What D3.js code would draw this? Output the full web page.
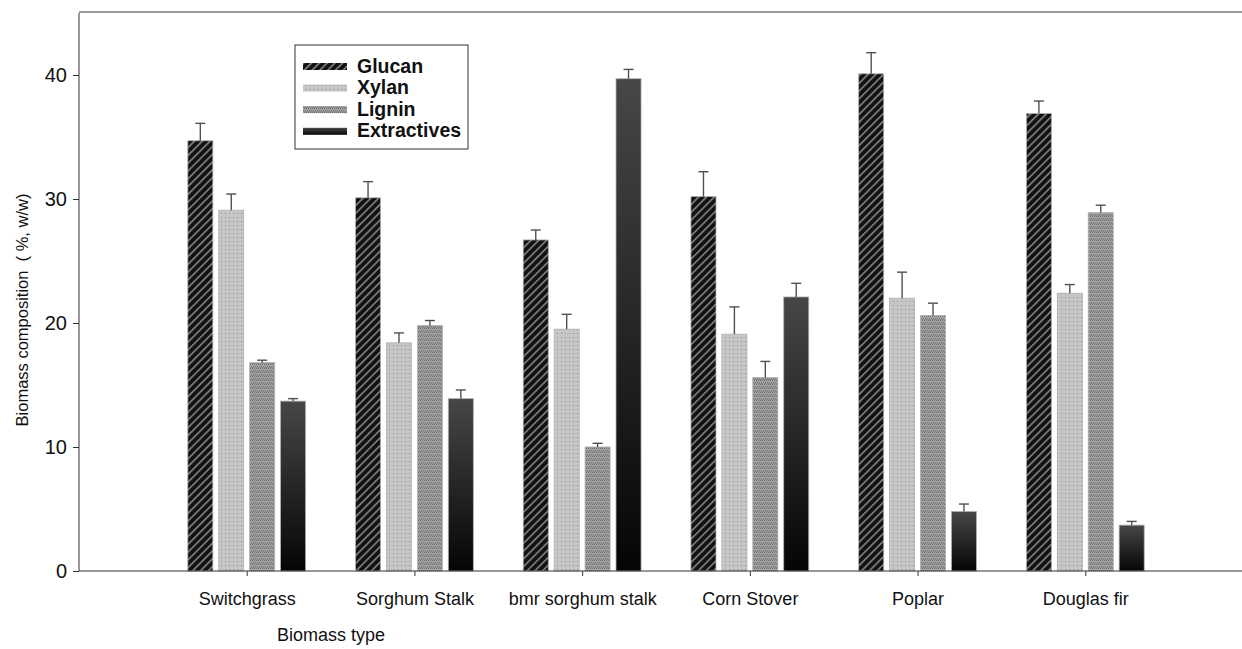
<!DOCTYPE html>
<html>
<head>
<meta charset="utf-8">
<script src="https://cdn.jsdelivr.net/npm/d3@7"></script>
<style>
  html, body { margin: 0; padding: 0; background: #fff; }
  svg { display: block; font-family: Arial, "Liberation Sans", sans-serif; }
</style>
</head>
<body>
<svg id="chart" width="1242" height="649"></svg>
<script>
// Biomass types along the x axis
const categories = ["Switchgrass", "Sorghum Stalk", "bmr sorghum stalk", "Corn Stover", "Poplar", "Douglas fir"];
const seriesNames = ["Glucan", "Xylan", "Lignin", "Extractives"];

// Composition (% w/w) per biomass type, with standard deviations
const glucan      = [34.7, 30.1, 26.7, 30.2, 40.1, 36.9];
const glucanErr   = [1.4, 1.3, 0.8, 2.0, 1.7, 1.0];
const xylan       = [29.1, 18.4, 19.5, 19.1, 22.0, 22.4];
const xylanErr    = [1.3, 0.8, 1.2, 2.2, 2.1, 0.7];
const lignin      = [16.8, 19.8, 10.0, 15.6, 20.6, 28.9];
const ligninErr   = [0.2, 0.4, 0.3, 1.3, 1.0, 0.6];
const extractives = [13.7, 13.9, 39.7, 22.1, 4.8, 3.7];
const extractErr  = [0.2, 0.7, 0.75, 1.1, 0.6, 0.3];

const yTicks = [0, 10, 20, 30, 40];

const values = [glucan, xylan, lignin, extractives];
const errors = [glucanErr, xylanErr, ligninErr, extractErr];

const svg = d3.select("#chart");
const plotLeft = 79, plotRight = 1253, plotTop = 13, plotBottom = 571;

const x = d3.scalePoint().domain(categories).range([plotLeft, plotRight]).padding(1);
const y = d3.scaleLinear().domain([0, 45]).range([plotBottom, plotTop]);
const slot = d3.scaleBand().domain(seriesNames).range([-62, 62]).paddingInner(0.19).paddingOuter(0.1);

// ---- fill patterns ----
const defs = svg.append("defs");

const hatch = defs.append("pattern").attr("id", "p-glucan")
  .attr("patternUnits", "userSpaceOnUse").attr("width", 5.5).attr("height", 5.5)
  .attr("patternTransform", "rotate(45)");
hatch.append("rect").attr("width", 5.5).attr("height", 5.5).attr("fill", "#121212");
hatch.append("rect").attr("width", 1.6).attr("height", 5.5).attr("fill", "#858585");

const dots = defs.append("pattern").attr("id", "p-xylan")
  .attr("patternUnits", "userSpaceOnUse").attr("width", 4).attr("height", 4);
dots.append("rect").attr("width", 4).attr("height", 4).attr("fill", "#c6c6c6");
dots.append("rect").attr("x", 1).attr("y", 1).attr("width", 1).attr("height", 1).attr("fill", "#8f8f8f");

const mesh = defs.append("pattern").attr("id", "p-lignin")
  .attr("patternUnits", "userSpaceOnUse").attr("width", 4).attr("height", 4);
mesh.append("rect").attr("width", 4).attr("height", 4).attr("fill", "#a4a4a4");
mesh.append("rect").attr("x", 0).attr("y", 0).attr("width", 1).attr("height", 1).attr("fill", "#6e6e6e");
mesh.append("rect").attr("x", 2).attr("y", 0).attr("width", 1).attr("height", 1).attr("fill", "#6e6e6e");
mesh.append("rect").attr("x", 1).attr("y", 2).attr("width", 1).attr("height", 1).attr("fill", "#7a7a7a");
mesh.append("rect").attr("x", 3).attr("y", 2).attr("width", 1).attr("height", 1).attr("fill", "#7a7a7a");
mesh.append("rect").attr("x", 0).attr("y", 3).attr("width", 4).attr("height", 1).attr("fill", "#8c8c8c");

const grad = defs.append("linearGradient").attr("id", "p-extract")
  .attr("x1", 0).attr("y1", 0).attr("x2", 0).attr("y2", 1);
grad.append("stop").attr("offset", "0%").attr("stop-color", "#474747");
grad.append("stop").attr("offset", "100%").attr("stop-color", "#050505");

const fills = ["url(#p-glucan)", "url(#p-xylan)", "url(#p-lignin)", "url(#p-extract)"];

// ---- bars ----
const barData = [];
seriesNames.forEach((s, si) => {
  categories.forEach((c, ci) => {
    barData.push({ series: s, si, cat: c, v: values[si][ci], e: errors[si][ci] });
  });
});

const bars = svg.append("g");
bars.selectAll("rect").data(barData).join("rect")
  .attr("x", d => x(d.cat) + slot(d.series))
  .attr("y", d => y(d.v))
  .attr("width", slot.bandwidth())
  .attr("height", d => y(0) - y(d.v))
  .attr("fill", d => fills[d.si])
  .attr("stroke", "#b0b0b0")
  .attr("stroke-width", 0.8);

// ---- error bars (upper) ----
const errG = svg.append("g").attr("stroke", "#505050").attr("stroke-width", 1.4);
barData.forEach(d => {
  const cx = x(d.cat) + slot(d.series) + slot.bandwidth() / 2;
  errG.append("line").attr("x1", cx).attr("x2", cx).attr("y1", y(d.v)).attr("y2", y(d.v + d.e));
  errG.append("line").attr("x1", cx - 5).attr("x2", cx + 5).attr("y1", y(d.v + d.e)).attr("y2", y(d.v + d.e));
});

// ---- axes ----
const yAxis = svg.append("g").attr("transform", `translate(${plotLeft},0)`)
  .call(d3.axisLeft(y).tickValues(yTicks).tickSize(6).tickPadding(6).tickFormat(d3.format("d")));
yAxis.select(".domain").attr("stroke", "#333").attr("d", `M0,${plotTop}V${plotBottom}`);
yAxis.selectAll(".tick line").attr("stroke", "#333");
yAxis.selectAll(".tick text").attr("font-size", 20).attr("fill", "#111")
  .attr("font-family", "Arial, 'Liberation Sans', sans-serif");

const xAxis = svg.append("g").attr("transform", `translate(0,${plotBottom})`)
  .call(d3.axisBottom(x).tickSize(5).tickPadding(16));
xAxis.select(".domain").attr("stroke", "#333").attr("d", `M${plotLeft},0H1242`);
xAxis.selectAll(".tick line").attr("stroke", "#333");
xAxis.selectAll(".tick text").attr("font-size", 18).attr("fill", "#111")
  .attr("font-family", "Arial, 'Liberation Sans', sans-serif");

// top frame line
svg.append("line").attr("x1", plotLeft).attr("x2", 1242).attr("y1", plotTop - 1).attr("y2", plotTop - 1)
  .attr("stroke", "#333").attr("stroke-width", 1);

// ---- axis titles ----
svg.append("text").attr("x", 331).attr("y", 641).attr("text-anchor", "middle")
  .attr("font-size", 18).attr("fill", "#111").text("Biomass type");

svg.append("text").attr("transform", "translate(28,310) rotate(-90)")
  .attr("text-anchor", "middle").attr("font-size", 16.5).attr("fill", "#111")
  .style("white-space", "pre").text("Biomass composition  ( %, w/w)");

// ---- legend ----
const lg = svg.append("g");
lg.append("rect").attr("x", 295).attr("y", 45).attr("width", 173).attr("height", 104)
  .attr("fill", "#fff").attr("stroke", "#333").attr("stroke-width", 1);
seriesNames.forEach((s, i) => {
  const yy = 66 + i * 21.6;
  lg.append("rect").attr("x", 303).attr("y", yy - 3).attr("width", 44).attr("height", 7)
    .attr("fill", fills[i]);
  lg.append("text").attr("x", 357).attr("y", yy + 6.5).attr("font-size", 19.5)
    .attr("font-weight", "bold").attr("fill", "#111").text(s);
});
</script>
</body>
</html>
